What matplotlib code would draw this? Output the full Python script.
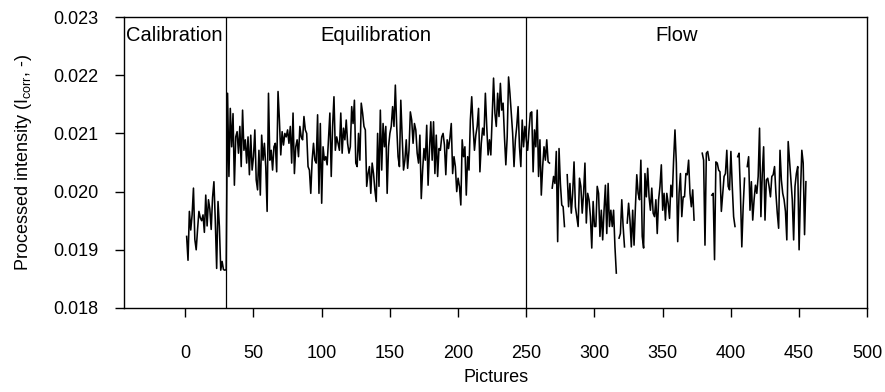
import numpy as np
import matplotlib
matplotlib.use("Agg")
import matplotlib.pyplot as plt

plt.rcParams['font.family'] = ['Liberation Sans', 'DejaVu Sans']

# Werte in Einheiten von 1e-5, nan = Lücke
calib = [1923, 1882, 1966, 1934, 1960, 2006, 1918, 1900, 1935, 1966,
         1955, 1950, 1960, 1930, 1994, 1941, 1986, 1970, 1935, 1990,
         2017, 1950, 1868, 1983, 1940, 1865, 1880, 1866, 1865, 1866]

equil = [2169, 2026, 2143, 2077, 2134, 2011, 2094, 2103, 2066, 2112,
         2043, 2140, 2071, 2089, 2049, 2094, 2029, 2097, 2037, 2060,
         2106, 2020, 2003, 2071, 1994, 2097, 2054, 2083, 2043, 1966,
         2169, 2054, 2071, 2037, 2077, 2083, 2034, 2172, 2123, 2063,
         2103, 2080, 2100,
         2094, 2106, 2083, 2112, 2049, 2135, 2031, 2077, 2089, 2060,
         2112, 2094, 2089, 2129, 2106, 2100, 2043, 2037, 1997, 2054,
         2083, 2054, 2049, 2132, 1997, 2117, 1980, 2077, 2054, 2060,
         2046, 2089, 2135, 2026, 2112, 2163, 2071, 2094, 2083, 2071,
         2135, 2066, 2109, 2089, 2123, 2083, 2066, 2077, 2146, 2117,
         2157, 2049, 2043, 2100, 2054, 2152, 2135, 2112, 2106, 2009,
         2031, 2043, 1997, 2049, 2031, 2003, 1983, 2100, 2009, 2140,
         2037, 2117, 2077, 2112, 1997,
         2077, 2100, 2112, 2146, 2112, 2183, 2112, 2060, 2043, 2157,
         2094, 2037, 2054, 2089, 2040, 2071, 2137, 2123, 2083, 2117,
         2106, 2066, 2049, 2097, 1988, 2037, 2074, 2054, 2114, 2011,
         2071, 2120, 2054, 2120, 2031, 2097, 2026, 2074, 2071, 2094,
         2100, 2080, 2029, 2089, 2074, 2092, 2117, 2031, 2060, 2043,
         2000, 2023, 2009, 1977, 2089, 2060, 2077, 1994, 2060, 2037,
         2123, 2163, 2112, 2071, 2097, 2112, 2143, 2034, 2083, 2109,
         2097, 2169, 2112, 2063, 2089,
         2063, 2129, 2195, 2135, 2112, 2169, 2129, 2186, 2140, 2152,
         2094, 2046, 2094, 2197, 2169, 2135, 2100, 2043, 2089, 2112,
         2146, 2077, 2043, 2123, 2077]

nan = np.nan
flow = [2112, 2089, 2071, 2106, 2135, 2137, 2034, 2106, 2077, 2140,
        2026, 2089, 1994, 2043, 2077, 2054, 2089, 2051, 2049, nan,
        2006, 2026, 2014, 2069, 1914, 2074, 2014, 1977, 1974, 1940,
        nan,
        2029, 1974, 2014, 1963, 1997, 2051, 1974, 1957, 1940, 2023,
        2009, 1963, 1997, 2049, 1946, 1997, 1986, 1957, 1903, 1983,
        1940,
        1940, 2009, 1997, 1923, 1968, 1917, 1968, 2011, 1928, 2014,
        1940, 1968, 1940, 1968, 1905, 1860, nan,
        1920, 1928, 1986, 1940, 1905, nan,
        1946, 1980, 1951, 1905, 1968, 1908, 1974, 2029, 1997, 1986,
        2054, 1923, 1903, 2031, 1991, 2040, 1991, 1968, 2006, 1963,
        1957, 1986, 1928, 1986, 2009, 2046, 1968, 1997, 1951, 1997,
        1980, 1954, 2011, 1991, 2054, 2106, 2049, 1914, 1997, 2031,
        1957, 1991, 1991, 2031, 2029, 2054, 1997, 1974, 2003, 1951,
        nan, nan, nan, nan, nan,
        2066, 2054, 1908, 2066, 2069, 2054, nan,
        1994, 1997, 1883, 2051, 2049, 2037, 2034, 1966, 1997, 2026,
        2031, 2071, 2009, 2003, 2069, 2009, 1957, 1940, nan,
        2060, 2066, 1997, 1905, 1974, 2023, nan,
        2043, 2060, 1968, 2017, 1951, 1986, 2011, 1997, 2026, 2109,
        1957, 2031, 2077, 1951, 2020, 2023, 2009, 1991, 2026, 2029,
        2043, 1997, 1963, 1937, 2071, 2020, 1997, 1986, 1966, 1917,
        2086, 2054, 2020, 1986, 1917, 2009, 2031, 2043, 1900, 1997,
        2071, 2049, 1926, 2017]

phases = ["Calibration", "Equilibration", "Flow"]
phase_x = [-8, 140, 360]
boundaries = [30, 250]

y = np.array(calib + equil + flow, dtype=float) * 1e-5
x = np.arange(1, len(y) + 1)

fig = plt.figure(figsize=(8.85, 3.92), dpi=100)
ax = fig.add_axes([0.140, 0.2143, 0.840, 0.7423])

ax.plot(x, y, color='black', lw=1.15)
for b in boundaries:
    ax.axvline(b, color='black', lw=0.9)
for name, px in zip(phases, phase_x):
    ax.text(px, 0.968, name, transform=ax.get_xaxis_transform(),
            ha='center', va='top', fontsize=14.5)

ax.set_xlim(-45, 500)
ax.set_ylim(0.018, 0.023)
ax.set_xticks(np.arange(0, 501, 50))
ax.set_yticks(np.arange(0.018, 0.0231, 0.001))
ax.yaxis.set_major_formatter(plt.FormatStrFormatter('%.3f'))
ax.tick_params(axis='x', direction='out', length=6.5, width=1, pad=20, labelsize=13)
ax.tick_params(axis='y', direction='out', length=6.5, width=1, pad=12, labelsize=13)
for s in ax.spines.values():
    s.set_linewidth(1.0)

ax.set_xlabel("Pictures", fontsize=13, labelpad=5)
ax.set_ylabel(r"Processed intensity (I$_\mathregular{corr}$, -)", fontsize=13, labelpad=14)

fig.savefig("out.png", dpi=100)
